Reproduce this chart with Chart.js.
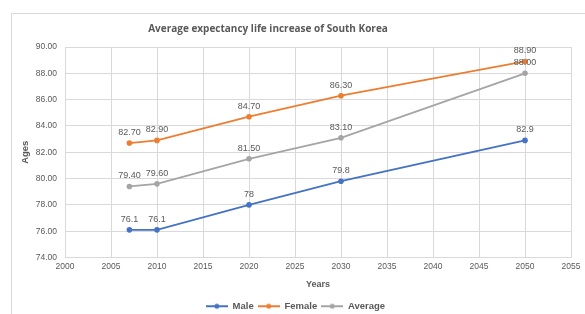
<!DOCTYPE html>
<html><head><meta charset="utf-8">
<script src="https://cdn.jsdelivr.net/npm/chart.js@4/dist/chart.umd.min.js"></script>
<style>
html,body{margin:0;padding:0;background:#fff;}
#wrap{position:relative;width:585px;height:314px;}
#frame{position:absolute;left:11px;top:13px;width:600px;height:320px;border:1px solid #d9d9d9;box-sizing:border-box;}
canvas{position:absolute;left:0;top:0;}
</style>
</head><body>
<div id="wrap"><div id="frame"></div><canvas id="c" width="585" height="314"></canvas></div>
<script>
const years = [2007, 2010, 2020, 2030, 2050];
const male = [76.1, 76.1, 78, 79.8, 82.9];
const female = [82.7, 82.9, 84.7, 86.3, 88.9];
const average = [79.4, 79.6, 81.5, 83.1, 88.0];
const maleLabels = ["76.1", "76.1", "78", "79.8", "82.9"];
const femaleLabels = ["82.70", "82.90", "84.70", "86.30", "88.90"];
const averageLabels = ["79.40", "79.60", "81.50", "83.10", "88.00"];
const titleText = "Average expectancy life increase of South Korea";

function pts(vals){ return years.map((y,i)=>({x:y,y:vals[i]})); }
function legendIcon(color){
  const c=document.createElement('canvas'); c.width=22; c.height=8;
  const g=c.getContext('2d'); g.strokeStyle=color; g.lineWidth=2;
  g.beginPath(); g.moveTo(0,4); g.lineTo(22,4); g.stroke();
  g.fillStyle=color; g.beginPath(); g.arc(11,4,2.5,0,Math.PI*2); g.fill();
  return c;
}
const colors = {Male:'#4472C4', Female:'#ED7D31', Average:'#A5A5A5'};

const labelPlugin = {
  id:'dlabels',
  afterDatasetsDraw(chart){
    const ctx=chart.ctx; ctx.save();
    ctx.font='9px "Liberation Sans", Arial, sans-serif'; ctx.fillStyle='#595959';
    ctx.textAlign='center'; ctx.textBaseline='bottom';
    chart.data.datasets.forEach((ds,di)=>{
      chart.getDatasetMeta(di).data.forEach((el,i)=>{
        ctx.fillText(ds.labelsText[i], el.x, el.y-6);
      });
    });
    ctx.restore();
  }
};
const titlePlugin = {
  id:'ctitle',
  afterDraw(chart){
    const ctx=chart.ctx; ctx.save();
    ctx.font='bold 10px "Open Sans", "Liberation Sans", sans-serif'; ctx.fillStyle='#595959';
    ctx.textAlign='center'; ctx.textBaseline='middle';
    ctx.fillText(titleText, 268, 29);
    ctx.restore();
  }
};

new Chart(document.getElementById('c'), {
  type:'line',
  data:{datasets:[
    {label:'Male', data:pts(male), labelsText:maleLabels, borderColor:colors.Male, backgroundColor:colors.Male},
    {label:'Female', data:pts(female), labelsText:femaleLabels, borderColor:colors.Female, backgroundColor:colors.Female},
    {label:'Average', data:pts(average), labelsText:averageLabels, borderColor:colors.Average, backgroundColor:colors.Average}
  ].map(d=>Object.assign(d,{borderWidth:1.8,pointRadius:2.8,pointHoverRadius:2.8,pointBorderWidth:0,pointStyle:'circle',tension:0}))},
  options:{
    responsive:false, animation:false,
    layout:{padding:{left:20,right:14,top:47,bottom:-7}},
    plugins:{
      legend:{position:'bottom',labels:{usePointStyle:true,pointStyleWidth:22,boxHeight:8,padding:4,color:'#595959',font:{size:9.5,weight:'bold',family:'"Liberation Sans", Arial, sans-serif'},
        generateLabels(chart){
          return chart.data.datasets.map((d,i)=>({text:d.label,pointStyle:legendIcon(d.borderColor),fillStyle:d.borderColor,strokeStyle:d.borderColor,lineWidth:0,datasetIndex:i,fontColor:'#595959'}));
        }}},
      tooltip:{enabled:false},
      title:{display:false}
    },
    scales:{
      x:{type:'linear',min:2000,max:2055,
        ticks:{stepSize:5,color:'#595959',font:{size:8.5,family:'"Liberation Sans", Arial, sans-serif'},padding:4,callback:v=>String(v)},
        grid:{color:'#d9d9d9',drawTicks:false},border:{color:'#d9d9d9'},
        title:{display:true,text:'Years',color:'#595959',font:{size:9,weight:'bold',family:'"Liberation Sans", Arial, sans-serif'},padding:{top:6,bottom:8}},
        afterFit(s){s.height=40;}
      },
      y:{min:74,max:90,
        ticks:{stepSize:2,color:'#595959',font:{size:8.5,family:'"Liberation Sans", Arial, sans-serif'},padding:8,callback:v=>v.toFixed(2)},
        grid:{color:'#d9d9d9',drawTicks:false},border:{display:false},
        title:{display:true,text:'Ages',color:'#595959',font:{size:9.5,weight:'bold',family:'"Liberation Sans", Arial, sans-serif'},padding:{top:0,bottom:4}},
        afterFit(s){s.width=45;}
      }
    }
  },
  plugins:[labelPlugin,titlePlugin]
});
</script>
</body></html>
